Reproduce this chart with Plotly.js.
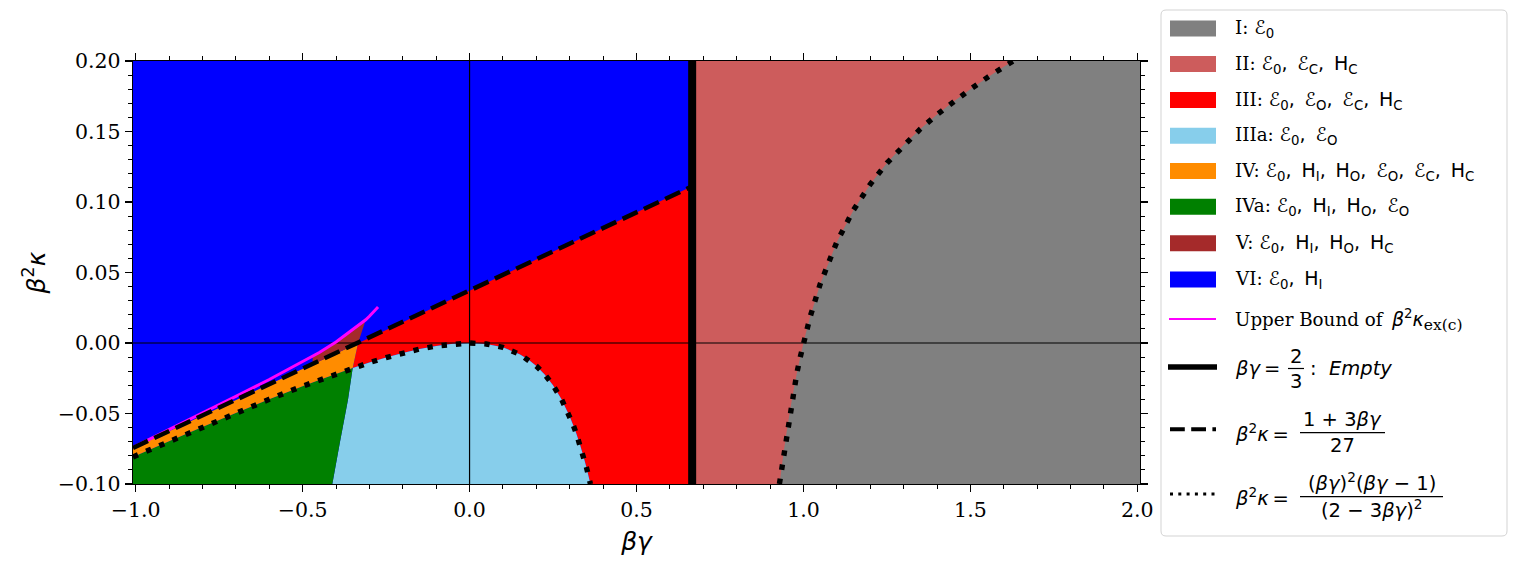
<!DOCTYPE html>
<html>
<head>
<meta charset="utf-8">
<script src="https://cdn.plot.ly/plotly-3.0.1.min.js"></script>
<style>html,body{margin:0;padding:0;background:#fff;}#chart{width:1517px;height:567px;}</style>
</head>
<body>
<div id="chart"></div>
<script>
// ---------- axis ranges ----------
const xRange = [-1.008, 2.008];
const yRange = [-0.1, 0.2];
const xEmpty = 0.6667; // βγ = 2/3

// ---------- boundary curves ----------
// dotted boundary, left branch
const dotX = [-1.008,-0.9,-0.8,-0.7,-0.6,-0.5,-0.45,-0.4,-0.35,-0.3,-0.25,-0.2,-0.15,-0.1,-0.05,0,0.05,0.1,0.15,0.175,0.2,0.225,0.25,0.275,0.3,0.31,0.32,0.33,0.34,0.35,0.355,0.362];
const dotY = [-0.0808,-0.0697,-0.0595,-0.0496,-0.0399,-0.0306,-0.0262,-0.0219,-0.0178,-0.0139,-0.0103,-0.0071,-0.0043,-0.0021,-0.0006,0,-0.0007,-0.0031,-0.0080,-0.0116,-0.0163,-0.0223,-0.0300,-0.0397,-0.0521,-0.0579,-0.0644,-0.0715,-0.0794,-0.0882,-0.0930,-0.1000];
const dotSplit = 8; // index of x = -0.35
// dotted boundary, right branch
const dotRX = [0.928,0.93,0.94,0.95,0.96,0.97,0.98,0.99,1.0,1.01,1.02,1.05,1.1,1.15,1.2,1.25,1.3,1.35,1.4,1.45,1.5,1.55,1.6,1.628];
const dotRY = [-0.1,-0.097,-0.0788,-0.0625,-0.0476,-0.0341,-0.0217,-0.0104,0,0.0096,0.0185,0.0417,0.0716,0.0944,0.1125,0.1276,0.1404,0.1518,0.162,0.1713,0.18,0.1882,0.1959,0.2];
// dashed line
const dashX = [-1.008, 0.6667];
const dashY = [-0.0744, 0.1111];
// magenta upper bound
const magX = [-1.008,-0.9,-0.8,-0.7,-0.6,-0.5,-0.45,-0.4,-0.35,-0.311,-0.3,-0.274];
const magY = [-0.0741,-0.0615,-0.0499,-0.0379,-0.0259,-0.0133,-0.0067,0.0007,0.0093,0.0165,0.0190,0.0255];

// ---------- extra region corner points ----------
const redOrangeX = [-0.334];              // top of III / IV boundary (on dashed line)
const redOrangeY = [-0.0001];
const skyGreenX = [-0.364,-0.388,-0.411]; // IIIa / IVa boundary
const skyGreenY = [-0.040,-0.070,-0.100];
const brownX = [-0.47,-0.45,-0.4,-0.35,-0.311];
const brownTopY = [-0.0093,-0.0067,0.0007,0.0093,0.0165];
const brownLeftDashY = -0.0152;

// ---------- region outlines ----------
const regVI = {x:[xRange[0],xEmpty,xEmpty,xRange[0]], y:[yRange[0],yRange[0],yRange[1],yRange[1]]};
const regII = {x:[xEmpty,xRange[1],xRange[1],xEmpty], y:[yRange[0],yRange[0],yRange[1],yRange[1]]};
const regI = {x:dotRX.concat([xRange[1],xRange[1]]), y:dotRY.concat([yRange[1],yRange[0]])};
const dotMidX = dotX.slice(dotSplit), dotMidY = dotY.slice(dotSplit);
const regIII = {
  x: redOrangeX.concat([dashX[1], dashX[1], dotMidX[dotMidX.length-1]], dotMidX.slice().reverse()),
  y: redOrangeY.concat([dashY[1], yRange[0], yRange[0]], dotMidY.slice().reverse())
};
const regIIIa = {
  x: dotMidX.concat(skyGreenX.slice().reverse()),
  y: dotMidY.concat(skyGreenY.slice().reverse())
};
const dotLowX = dotX.slice(0, dotSplit+1), dotLowY = dotY.slice(0, dotSplit+1);
const regIVa = {
  x: [xRange[0]].concat(dotLowX, skyGreenX),
  y: [yRange[0]].concat(dotLowY, skyGreenY)
};
const regIV = {
  x: dotLowX.concat(redOrangeX, [dashX[0]]),
  y: dotLowY.concat(redOrangeY, [dashY[0]])
};
const regV = {
  x: brownX.concat(redOrangeX, [brownX[0]]),
  y: brownTopY.concat(redOrangeY, [brownLeftDashY])
};

// ---------- legend content ----------
const SP = ',\u2009\u00a0';
const M = s => '<span style="font-family:DejaVu Sans;font-size:19px">' + s + '</span>';
const legendColors = ['#808080','#cd5c5c','#ff0000','#87ceeb','#ff8c00','#008000','#a52a2a','#0000ff'];
const legendLabels = [
  'I: ' + M('ℰ<sub>0</sub>'),
  'II: ' + M(['ℰ<sub>0</sub>','ℰ<sub>C</sub>','H<sub>C</sub>'].join(SP)),
  'III: ' + M(['ℰ<sub>0</sub>','ℰ<sub>O</sub>','ℰ<sub>C</sub>','H<sub>C</sub>'].join(SP)),
  'IIIa: ' + M(['ℰ<sub>0</sub>','ℰ<sub>O</sub>'].join(SP)),
  'IV: ' + M(['ℰ<sub>0</sub>','H<sub>I</sub>','H<sub>O</sub>','ℰ<sub>O</sub>','ℰ<sub>C</sub>','H<sub>C</sub>'].join(SP)),
  'IVa: ' + M(['ℰ<sub>0</sub>','H<sub>I</sub>','H<sub>O</sub>','ℰ<sub>O</sub>'].join(SP)),
  'V: ' + M(['ℰ<sub>0</sub>','H<sub>I</sub>','H<sub>O</sub>','H<sub>C</sub>'].join(SP)),
  'VI: ' + M(['ℰ<sub>0</sub>','H<sub>I</sub>'].join(SP))
];
const legendRowY = [28.5, 64, 100, 135.7, 171, 206.8, 243.3, 279.5];

// ---------- geometry helpers (pixel -> paper) ----------
const L = 133, R = 1140, T = 61, B = 484;
const px = x => (x - L) / (R - L);
const py = y => (B - y) / (B - T);

function fillTrace(reg, color) {
  return {x: reg.x, y: reg.y, mode: 'none', fill: 'toself', fillcolor: color, type: 'scatter', hoverinfo: 'skip', showlegend: false};
}
function lineTrace(x, y, color, width, dash) {
  return {x: x, y: y, mode: 'lines', type: 'scatter', line: {color: color, width: width, dash: dash || 'solid'}, hoverinfo: 'skip', showlegend: false};
}

const traces = [
  fillTrace(regVI, '#0000ff'),
  fillTrace(regII, '#cd5c5c'),
  fillTrace(regI, '#808080'),
  fillTrace(regIII, '#ff0000'),
  fillTrace(regIIIa, '#87ceeb'),
  fillTrace(regIVa, '#008000'),
  fillTrace(regIV, '#ff8c00'),
  fillTrace(regV, '#a52a2a'),
  lineTrace(xRange, [0, 0], 'black', 1.2),
  lineTrace([0, 0], yRange, 'black', 1.2),
  lineTrace(magX, magY, '#ff00ff', 3),
  lineTrace(dashX, dashY, 'black', 4.5, '16.5px,7px'),
  lineTrace(dotX, dotY, 'black', 5.4, '5.4px,8.9px'),
  lineTrace(dotRX, dotRY, 'black', 5.4, '5.4px,8.9px'),
  lineTrace([xEmpty, xEmpty], yRange, 'black', 8)
];

const serif = 'DejaVu Serif';
const sans = 'DejaVu Sans';
const legFont = {family: serif, size: 18.3, color: 'black'};
const mathFont = {family: sans, size: 19.5, color: 'black'};

const shapes = [];
const annotations = [];
// legend frame with rounded corners
(function () {
  const x0 = px(1161), x1 = px(1507), y0 = py(536), y1 = py(10);
  const rx = 5 / (R - L), ry = 5 / (B - T);
  const path = `M ${x0 + rx},${y0} L ${x1 - rx},${y0} Q ${x1},${y0} ${x1},${y0 + ry} L ${x1},${y1 - ry} Q ${x1},${y1} ${x1 - rx},${y1} L ${x0 + rx},${y1} Q ${x0},${y1} ${x0},${y1 - ry} L ${x0},${y0 + ry} Q ${x0},${y0} ${x0 + rx},${y0} Z`;
  shapes.push({type: 'path', xref: 'paper', yref: 'paper', path: path, line: {color: '#d3d3d3', width: 1}, fillcolor: 'white', layer: 'above'});
})();
// patches
legendLabels.forEach((lab, i) => {
  const yc = legendRowY[i];
  shapes.push({type: 'rect', xref: 'paper', yref: 'paper', x0: px(1170), x1: px(1216), y0: py(yc - 8), y1: py(yc + 8), line: {width: 0}, fillcolor: legendColors[i], layer: 'above'});
  annotations.push({xref: 'paper', yref: 'paper', x: px(1233), y: py(yc), xanchor: 'left', yanchor: 'middle', showarrow: false, text: lab, font: legFont});
});
// line handles
shapes.push({type: 'line', xref: 'paper', yref: 'paper', x0: px(1169), x1: px(1216), y0: py(319), y1: py(319), line: {color: '#ff00ff', width: 2}, layer: 'above'});
shapes.push({type: 'line', xref: 'paper', yref: 'paper', x0: px(1168), x1: px(1217), y0: py(367), y1: py(367), line: {color: 'black', width: 5.5}, layer: 'above'});
shapes.push({type: 'line', xref: 'paper', yref: 'paper', x0: px(1170), x1: px(1216), y0: py(429.3), y1: py(429.3), line: {color: 'black', width: 4, dash: '14.8px,6.4px'}, layer: 'above'});
shapes.push({type: 'line', xref: 'paper', yref: 'paper', x0: px(1170), x1: px(1216), y0: py(494), y1: py(494), line: {color: 'black', width: 3, dash: '3px,5.3px'}, layer: 'above'});
// line labels
annotations.push({xref: 'paper', yref: 'paper', x: px(1233), y: py(320), xanchor: 'left', yanchor: 'middle', showarrow: false,
  text: 'Upper Bound of\u00a0\u2009' + M('<i>β</i><sup>2</sup><i>κ</i>') + '<sub><span style="font-size:15.5px">ex(c)</span></sub>', font: legFont});
// βγ = 2/3 : Empty
annotations.push({xref: 'paper', yref: 'paper', x: px(1233), y: py(368), xanchor: 'left', yanchor: 'middle', showarrow: false, text: '<i>βγ</i>\u2009=', font: mathFont});
annotations.push({xref: 'paper', yref: 'paper', x: px(1296), y: py(356), xanchor: 'center', yanchor: 'middle', showarrow: false, text: '2', font: mathFont});
annotations.push({xref: 'paper', yref: 'paper', x: px(1296), y: py(381), xanchor: 'center', yanchor: 'middle', showarrow: false, text: '3', font: mathFont});
shapes.push({type: 'line', xref: 'paper', yref: 'paper', x0: px(1288), x1: px(1304), y0: py(368.5), y1: py(368.5), line: {color: 'black', width: 1.2}, layer: 'above'});
annotations.push({xref: 'paper', yref: 'paper', x: px(1308), y: py(368), xanchor: 'left', yanchor: 'middle', showarrow: false, text: ':\u00a0\u00a0<i>Empty</i>', font: mathFont});
// dashed formula
annotations.push({xref: 'paper', yref: 'paper', x: px(1233), y: py(433), xanchor: 'left', yanchor: 'middle', showarrow: false, text: '<i>β</i><sup>2</sup><i>κ</i>\u2009=', font: mathFont});
annotations.push({xref: 'paper', yref: 'paper', x: px(1342.5), y: py(419), xanchor: 'center', yanchor: 'middle', showarrow: false, text: '1 + 3<i>βγ</i>', font: mathFont});
annotations.push({xref: 'paper', yref: 'paper', x: px(1342.5), y: py(445), xanchor: 'center', yanchor: 'middle', showarrow: false, text: '27', font: mathFont});
shapes.push({type: 'line', xref: 'paper', yref: 'paper', x0: px(1300), x1: px(1385), y0: py(432.7), y1: py(432.7), line: {color: 'black', width: 1.2}, layer: 'above'});
// dotted formula
annotations.push({xref: 'paper', yref: 'paper', x: px(1233), y: py(497), xanchor: 'left', yanchor: 'middle', showarrow: false, text: '<i>β</i><sup>2</sup><i>κ</i>\u2009=', font: mathFont});
annotations.push({xref: 'paper', yref: 'paper', x: px(1371.5), y: py(482), xanchor: 'center', yanchor: 'middle', showarrow: false, text: '(<i>βγ</i>)<sup>2</sup>(<i>βγ</i> − 1)', font: mathFont});
annotations.push({xref: 'paper', yref: 'paper', x: px(1371.5), y: py(509), xanchor: 'center', yanchor: 'middle', showarrow: false, text: '(2 − 3<i>βγ</i>)<sup>2</sup>', font: mathFont});
shapes.push({type: 'line', xref: 'paper', yref: 'paper', x0: px(1300), x1: px(1443), y0: py(496.7), y1: py(496.7), line: {color: 'black', width: 1.2}, layer: 'above'});

const axisCommon = {
  showline: true, linecolor: 'black', linewidth: 1.3, mirror: 'ticks',
  ticks: 'outside', ticklen: 7, tickwidth: 1.3, tickcolor: 'black',
  showgrid: false, zeroline: false,
  tickfont: {family: serif, size: 20.5, color: 'black'},
  fixedrange: true
};

const layout = {
  width: 1517, height: 567,
  margin: {l: L, r: 1517 - R, t: T, b: 567 - B, pad: 0},
  paper_bgcolor: 'white', plot_bgcolor: 'white',
  showlegend: false,
  xaxis: Object.assign({}, axisCommon, {
    range: xRange, tickmode: 'linear', tick0: 0, dtick: 0.5, tickformat: '.1f',
    minor: {ticks: 'outside', dtick: 0.1, tick0: 0, ticklen: 4, tickwidth: 1, tickcolor: 'black', showgrid: false},
    title: {text: '<i>βγ</i>', font: {family: sans, size: 25, color: 'black'}, standoff: 11}
  }),
  yaxis: Object.assign({}, axisCommon, {
    range: yRange, tickmode: 'linear', tick0: 0, dtick: 0.05, tickformat: '.2f',
    minor: {ticks: 'outside', dtick: 0.01, tick0: 0, ticklen: 4, tickwidth: 1, tickcolor: 'black', showgrid: false},
    title: {text: '<i>β</i><sup>2</sup><i>κ</i>', font: {family: sans, size: 25, color: 'black'}, standoff: 5}
  }),
  shapes: shapes,
  annotations: annotations
};

Plotly.newPlot('chart', traces, layout, {displayModeBar: false, staticPlot: true});
</script>
</body>
</html>
